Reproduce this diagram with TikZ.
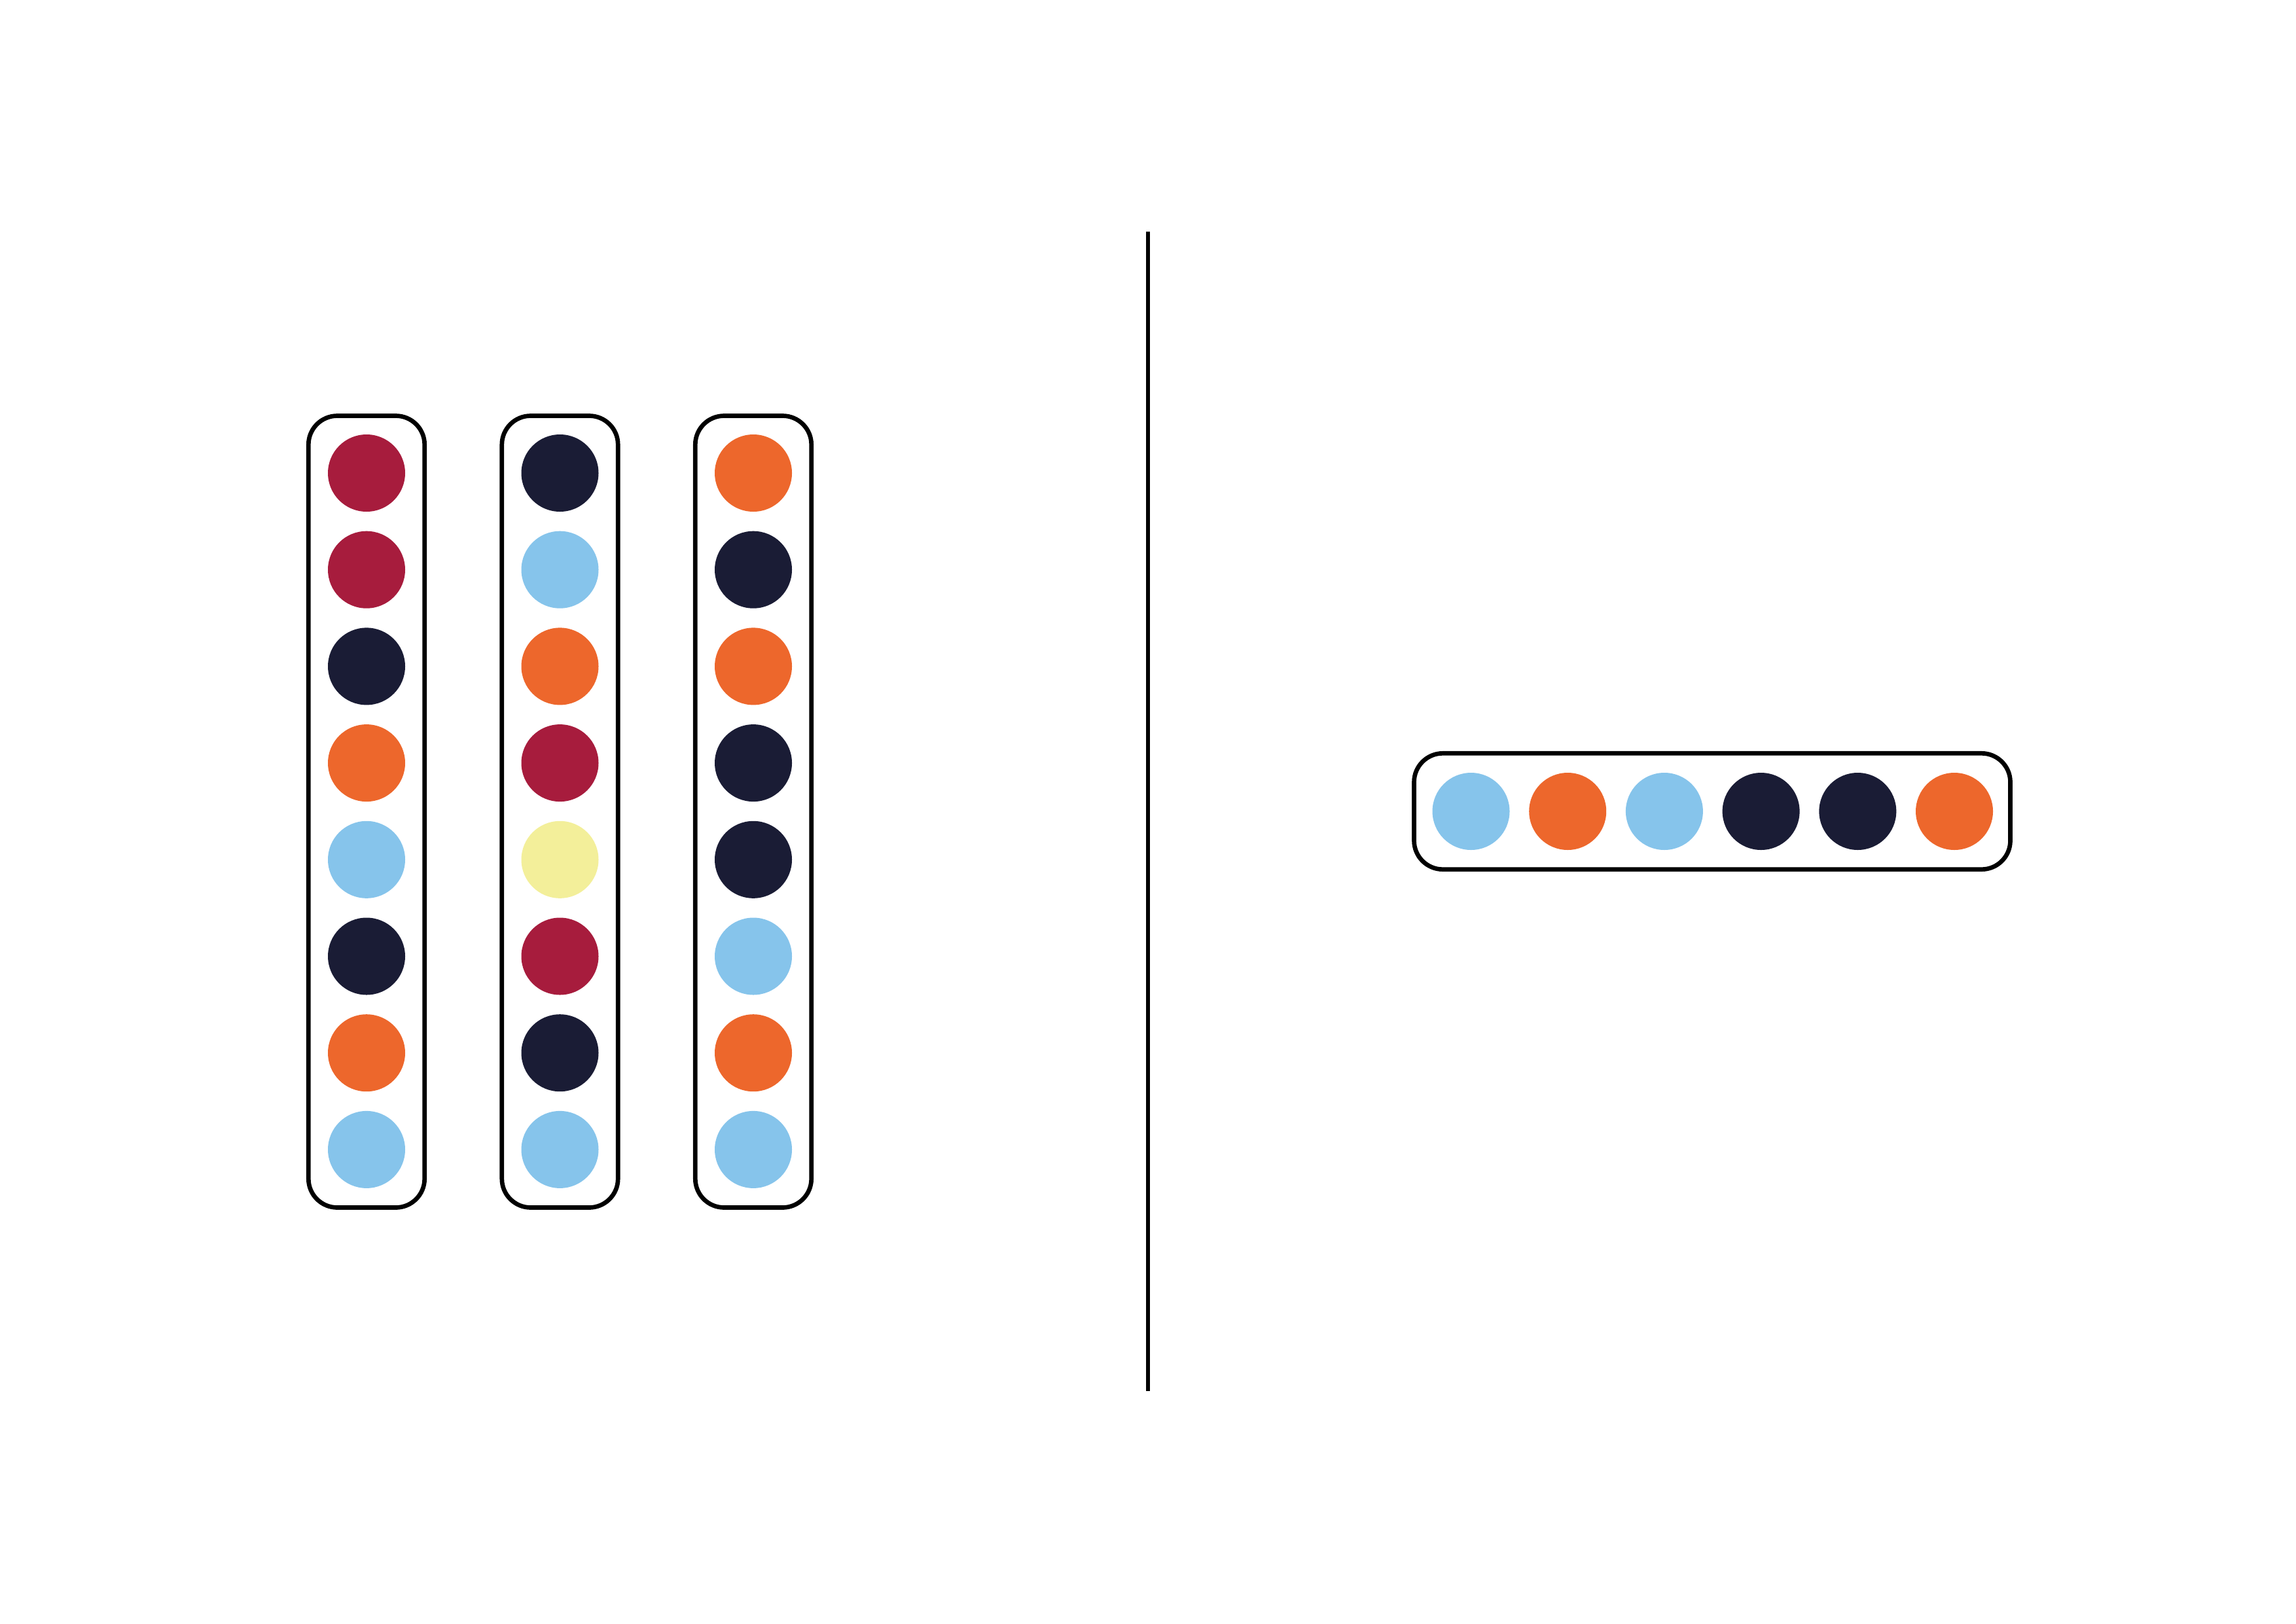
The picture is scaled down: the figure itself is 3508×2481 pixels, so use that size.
\documentclass[tikz,border=0pt]{standalone}
\definecolor{cred}{HTML}{A71C3D}
\definecolor{cnavy}{HTML}{1A1C35}
\definecolor{corange}{HTML}{ED672C}
\definecolor{cblue}{HTML}{86C4EB}
\definecolor{cyellow}{HTML}{F3EF9A}
\tikzset{
  bead/.style={circle, fill=#1, draw=none, minimum size=118pt, inner sep=0pt},
  tube/.style={rectangle, draw=black, line width=6.7pt, rounded corners=44pt, inner sep=0pt},
}
\begin{document}
\begin{tikzpicture}[x=1pt,y=-1pt]
\useasboundingbox (0,0) rectangle (3508,2481);
% tubes
\node[tube, minimum width=177.4pt, minimum height=1210pt] (t1) at (560,1240.5) {};
\node[tube, minimum width=177.4pt, minimum height=1210pt] (t2) at (855.5,1240.5) {};
\node[tube, minimum width=177.4pt, minimum height=1210pt] (t3) at (1151,1240.5) {};
\node[tube, minimum width=911pt, minimum height=177.4pt] (t4) at (2616,1240) {};
% beads column 1
\foreach \c [count=\i from 0] in {cred,cred,cnavy,corange,cblue,cnavy,corange,cblue}
  \node[bead=\c] (a\i) at (560,723+147.7*\i) {};
% column 2
\foreach \c [count=\i from 0] in {cnavy,cblue,corange,cred,cyellow,cred,cnavy,cblue}
  \node[bead=\c] (b\i) at (855.5,723+147.7*\i) {};
% column 3
\foreach \c [count=\i from 0] in {corange,cnavy,corange,cnavy,cnavy,cblue,corange,cblue}
  \node[bead=\c] (c\i) at (1151,723+147.7*\i) {};
% row
\foreach \c [count=\i from 0] in {cblue,corange,cblue,cnavy,cnavy,corange}
  \node[bead=\c] (d\i) at (2247.5+147.7*\i,1240) {};
% divider
\coordinate (ltop) at (1754,354);
\coordinate (lbot) at (1754,2126);
\draw[line width=6.7pt] (ltop) -- (lbot);
\end{tikzpicture}
\end{document}
